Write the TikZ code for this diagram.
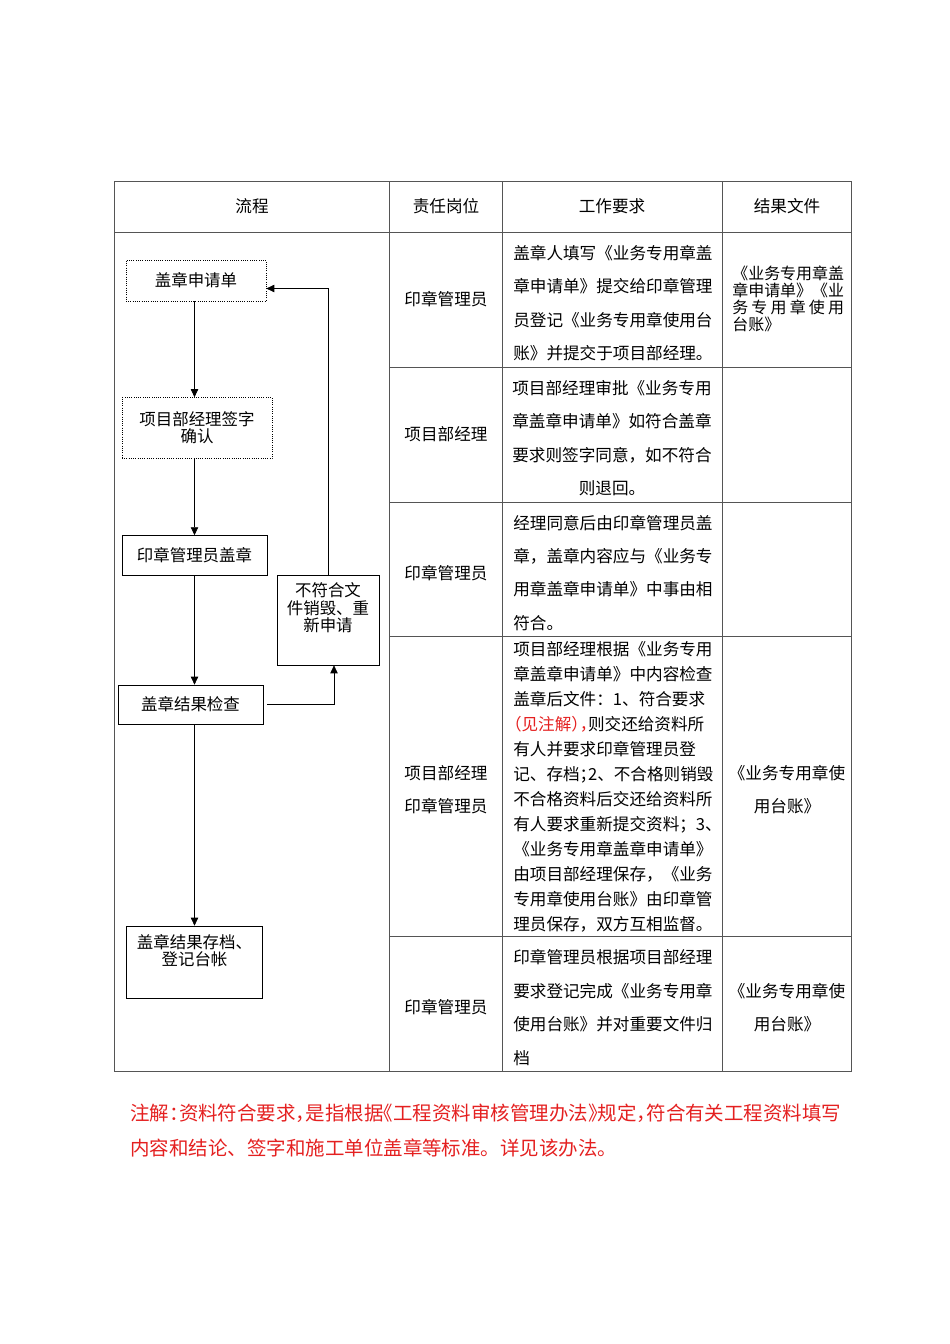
\documentclass[tikz,border=0pt]{standalone}
\usepackage{fontspec}
\setmainfont{Noto Sans CJK SC}
\usetikzlibrary{arrows.meta,positioning}
\newcommand{\px}{0.6263pt}
\newcommand{\halfpunct}[1]{{\addfontfeatures{RawFeature=+halt}#1}}
\definecolor{notered}{RGB}{228,32,32}
\definecolor{gridgray}{RGB}{85,85,85}

\begin{document}
\begin{tikzpicture}[x=0.6263pt,y=-0.6263pt,
	flowbox/.style={draw,rectangle,inner sep=0pt,align=center,font=\fontsize{10.3}{10.8}\selectfont},
	dotbox/.style={flowbox,densely dotted},
	boxtext/.style={inner sep=0pt,align=center,font=\fontsize{10.3}{10.8}\selectfont},
	flowarrow/.style={-{Triangle[length=5pt,width=4.6pt]}},
	tableline/.style={gridgray,line width=0.6pt},
	cell/.style={inner sep=0pt,font=\fontsize{10.4}{20.9}\selectfont},
	cellleft/.style={cell,anchor=west,align=left},
	cellmid/.style={cell,align=center}]
		\useasboundingbox (0,0) rectangle (950,1344);
		% table
		\draw[tableline] (114,181) rectangle (851,1071);
		\draw[tableline] (114,232) -- (851,232);
		\foreach \x in {389,502,722}
			\draw[tableline] (\x,181) -- (\x,1071);
		\foreach \y in {367,502,636,936}
			\draw[tableline] (389,\y) -- (851,\y);
		\node[cellmid] (hFlow) at (252,206) {流程};
		\node[cellmid] (hPost) at (446,206) {责任岗位};
		\node[cellmid] (hWork) at (612,206) {工作要求};
		\node[cellmid] (hFile) at (787,206) {结果文件};
		% flow chart
		\node[dotbox,minimum width=140*\px,minimum height=41*\px] (req) at (196,280.5) {盖章申请单};
		\node[dotbox,minimum width=150*\px,minimum height=61*\px] (sign) at (197,428) {项目部经理签字\\确认};
		\node[flowbox,minimum width=145*\px,minimum height=39.5*\px] (seal) at (194.5,555.3) {印章管理员盖章};
		\node[flowbox,minimum width=145*\px,minimum height=39*\px] (chk) at (190.5,704.5) {盖章结果检查};
		\node[flowbox,minimum width=102*\px,minimum height=90*\px] (redo) at (328,620) {};
		\node[boxtext,below=5pt of redo.north] (redoText) {不符合文\\件销毁、重\\新申请};
		\node[flowbox,minimum width=136*\px,minimum height=72*\px] (keep) at (194.5,962) {};
		\node[boxtext,below=5pt of keep.north] (keepText) {盖章结果存档、\\登记台帐};
		\draw[flowarrow] (req.south -| seal.north) -- (sign.north -| seal.north);
		\draw[flowarrow] (sign.south -| seal.north) -- (seal.north);
		\draw[flowarrow] (seal.south) -- (chk.north -| seal.south);
		\draw[flowarrow] (chk.south -| keep.north) -- (keep.north);
		\draw[flowarrow] ([xshift=4*\px]chk.east) -| ([xshift=6*\px]redo.south);
		\draw[flowarrow] (redo.north) |- ([yshift=-8*\px]req.east);
		% posts
		\node[cellmid] (post1) at (446,299) {印章管理员};
		\node[cellmid] (post2) at (446,434) {项目部经理};
		\node[cellmid] (post3) at (446,573) {印章管理员};
		\node[cellmid,font=\fontsize{10.4}{20.7}\selectfont] (post4) at (446,789.5) {项目部经理\\印章管理员};
		\node[cellmid] (post5) at (446,1007) {印章管理员};
		% requirements
		\node[cellleft] (work1) at (513,303) {盖章人填写《业务专用章盖\\章申请单》提交给印章管理\\员登记《业务专用章使用台\\账》并提交于项目部经理。};
		\node[cellmid] (work2) at (612,438) {项目部经理审批《业务专用\\章盖章申请单》如符合盖章\\要求则签字同意，如不符合\\则退回。};
		\node[cellleft] (work3) at (513,572.7) {经理同意后由印章管理员盖\\章，盖章内容应与《业务专\\用章盖章申请单》中事由相\\符合。};
		\node[cellleft,font=\fontsize{10.4}{15.66}\selectfont] (work4) at (513,786.5) {项目部经理根据《业务专用\\章盖章申请单》中内容检查\\盖章后文件：1、符合要求\\{\color{notered}\halfpunct{（见注解），}}则交还给资料所\\有人并要求印章管理员登\\记、存档\halfpunct{；}2、不合格则销毁\\不合格资料后交还给资料所\\有人要求重新提交资料；3、\\《业务专用章盖章申请单》\\由项目部经理保存，《业务\\专用章使用台账》由印章管\\理员保存，双方互相监督。};
		\node[cellleft] (work5) at (513,1007.5) {印章管理员根据项目部经理\\要求登记完成《业务专用章\\使用台账》并对重要文件归\\档};
		% result files
		\node[cellleft,font=\fontsize{10}{10.6}\selectfont] (file1) at (732,298.5) {《业务专用章盖\\章申请单》《业\\\makebox[7em][s]{务\hfill 专\hfill 用\hfill 章\hfill 使\hfill 用}\\台账》};
		\node[cellmid,font=\fontsize{10.4}{20.7}\selectfont] (file4) at (787,789.5) {《业务专用章使\\用台账》};
		\node[cellmid,font=\fontsize{10.4}{20.7}\selectfont] (file5) at (787,1007.5) {《业务专用章使\\用台账》};
		% note
		\node[inner sep=0pt,anchor=west,align=left,text=notered,font=\fontsize{12.2}{21.9}\selectfont] (note) at (130,1130.5) {\halfpunct{注解：资料符合要求，是指根据《工程资料审核管理办法》规定，符合有关工程资料填写}\\内容和结论、签字和施工单位盖章等标准。详见该办法。};
\end{tikzpicture}
\end{document}
